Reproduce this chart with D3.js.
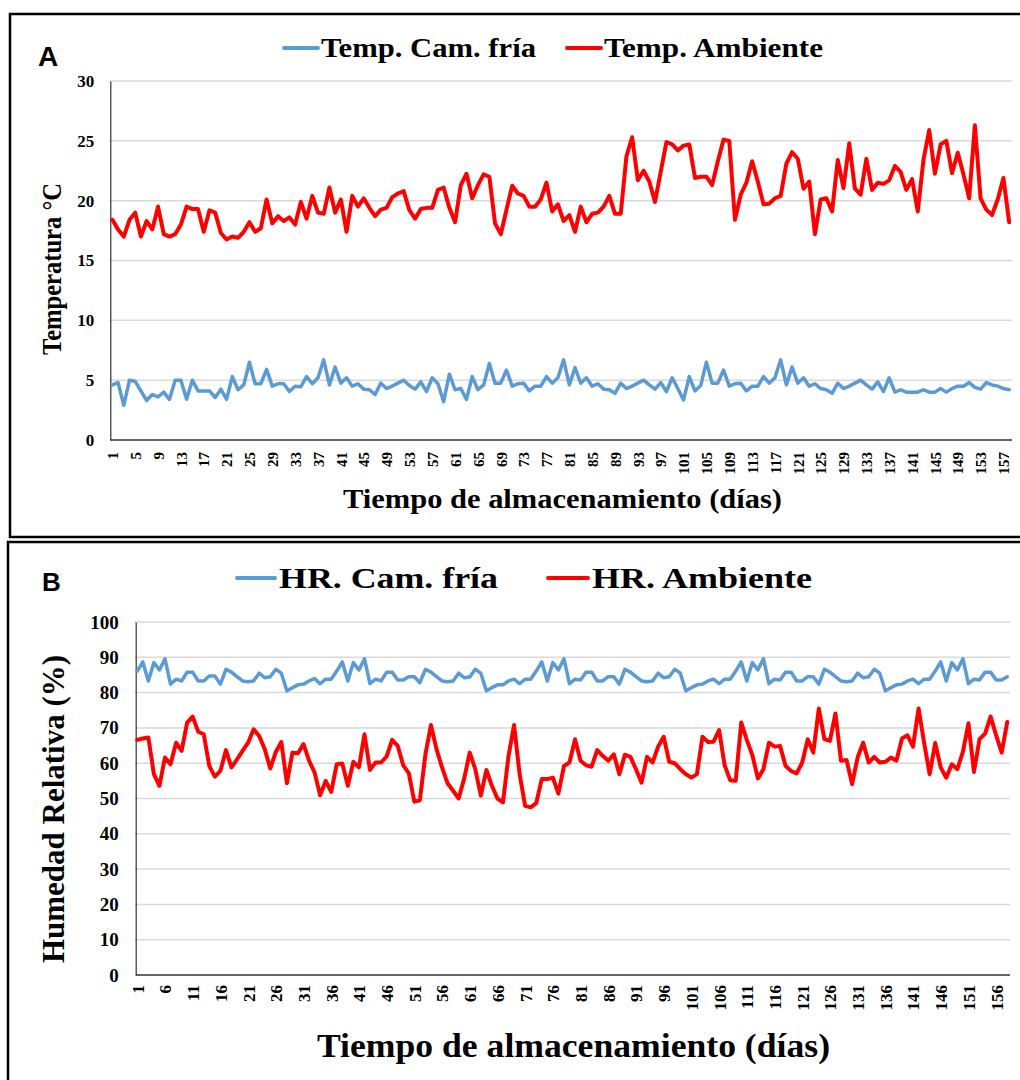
<!DOCTYPE html>
<html><head><meta charset="utf-8">
<script src="https://cdn.jsdelivr.net/npm/d3@7"></script>
<style>
html,body{margin:0;padding:0;background:#fff;}
svg{display:block;}
</style></head>
<body>
<svg id="chart" width="1020" height="1080"></svg>
<script>
// ---------- DATA ----------
const days = d3.range(1, 159);
const tickDaysA = [1,5,9,13,17,21,25,29,33,37,41,45,49,53,57,61,65,69,73,77,81,85,89,93,97,101,105,109,113,117,121,125,129,133,137,141,145,149,153,157];
const tickDaysB = [1,6,11,16,21,26,31,36,41,46,51,56,61,66,71,76,81,86,91,96,101,106,111,116,121,126,131,136,141,146,151,156];
const yTicksA = [0,5,10,15,20,25,30];
const yTicksB = [0,10,20,30,40,50,60,70,80,90,100];

const tempCamFria = [
4.6,4.8,2.9,5.0,4.9,4.1,3.3,3.8,3.6,4.0,
3.4,5.0,5.0,3.4,5.0,4.1,4.1,4.1,3.55,4.25,
3.4,5.3,4.2,4.6,6.5,4.7,4.7,5.9,4.5,4.7,
4.7,4.05,4.5,4.45,5.3,4.7,5.2,6.7,4.6,6.1,
4.75,5.2,4.5,4.7,4.25,4.2,3.8,4.75,4.3,4.5,
4.75,5.0,4.55,4.25,4.85,4.05,5.2,4.7,3.2,5.5,
4.2,4.3,3.4,5.3,4.2,4.6,6.4,4.75,4.75,5.85,
4.5,4.7,4.75,4.1,4.5,4.5,5.3,4.75,5.2,6.7,
4.6,6.05,4.75,5.2,4.5,4.7,4.25,4.2,3.9,4.75,
4.3,4.5,4.75,5.0,4.6,4.25,4.8,4.05,5.2,4.3,
3.35,5.3,4.1,4.55,6.5,4.75,4.75,5.85,4.5,4.7,
4.75,4.1,4.5,4.5,5.3,4.75,5.2,6.7,4.6,6.1,
4.75,5.2,4.5,4.7,4.3,4.2,3.9,4.75,4.3,4.5,
4.75,5.0,4.6,4.25,4.85,4.05,5.2,4.0,4.2,4.0,
4.0,4.0,4.2,4.0,4.0,4.3,4.0,4.3,4.5,4.5,
4.8,4.4,4.25,4.8,4.6,4.5,4.3,4.2];

const tempAmbiente = [
18.4,17.6,17.0,18.4,19.0,17.0,18.3,17.6,19.5,17.2,
17.0,17.2,18.0,19.5,19.3,19.3,17.4,19.2,19.0,17.3,
16.75,17.0,16.9,17.4,18.2,17.4,17.7,20.1,18.1,18.7,
18.3,18.6,18.0,19.9,18.5,20.4,19.0,18.9,21.1,19.0,
20.1,17.4,20.4,19.5,20.2,19.4,18.7,19.25,19.4,20.3,
20.6,20.8,19.2,18.5,19.3,19.4,19.4,20.9,21.1,19.4,
18.2,21.3,22.25,20.2,21.3,22.2,22.0,18.1,17.2,19.25,
21.25,20.6,20.4,19.5,19.5,20.1,21.5,19.1,19.7,18.3,
18.8,17.4,19.5,18.2,18.9,19.0,19.5,20.4,18.9,18.9,
23.7,25.3,21.7,22.5,21.6,19.9,22.4,24.9,24.7,24.2,
24.6,24.7,21.9,22.0,22.0,21.3,23.3,25.1,25.0,18.4,
20.5,21.5,23.3,21.6,19.7,19.75,20.2,20.4,23.1,24.05,
23.5,21.0,21.6,17.2,20.1,20.2,19.1,23.4,21.05,24.8,
21.0,20.5,23.5,20.9,21.5,21.4,21.7,22.9,22.4,20.9,
21.8,19.1,23.4,25.9,22.25,24.7,25.0,22.3,24.0,22.2,
20.2,26.3,20.2,19.25,18.8,20.1,21.9,18.2];

const hrCamFria = [
86.1,88.7,83.3,88.5,86.4,89.6,82.4,83.8,83.3,85.8,
85.8,83.3,83.3,84.7,84.7,82.4,86.6,85.8,84.5,83.3,
83.1,83.3,85.5,84.2,84.5,86.6,85.5,80.5,81.4,82.2,
82.4,83.3,84.0,82.5,83.8,83.8,86.1,88.7,83.3,88.5,
86.4,89.6,82.5,83.8,83.3,85.8,85.8,83.6,83.6,84.5,
84.5,82.8,86.6,85.8,84.5,83.3,83.1,83.3,85.5,84.2,
84.4,86.6,85.5,80.5,81.4,82.2,82.2,83.3,83.8,82.5,
83.8,83.8,86.1,88.7,83.3,88.5,86.4,89.6,82.5,83.8,
83.6,85.8,85.8,83.3,83.3,84.5,84.5,82.4,86.6,85.8,
84.5,83.3,83.1,83.3,85.5,84.2,84.5,86.6,85.5,80.5,
81.4,82.2,82.4,83.3,83.8,82.5,83.8,83.8,86.1,88.7,
83.3,88.5,86.4,89.6,82.5,83.8,83.6,85.8,85.8,83.3,
83.3,84.5,84.5,82.4,86.6,85.8,84.5,83.3,83.1,83.3,
85.5,84.2,84.5,86.6,85.5,80.5,81.4,82.2,82.4,83.3,
83.8,82.5,83.8,83.8,86.1,88.7,83.3,88.5,86.4,89.6,
82.5,83.8,83.6,85.8,85.8,83.6,83.6,84.5];

const hrAmbiente = [
66.6,67.0,67.3,56.9,53.6,61.6,59.7,65.8,63.5,71.5,
73.2,68.9,68.2,59.2,56.2,57.8,63.7,58.8,61.1,63.5,
65.8,69.6,67.7,64.0,58.5,63.2,66.0,54.3,63.0,62.8,
65.4,60.7,57.4,50.9,55.0,51.9,59.7,59.9,53.6,60.4,
58.8,68.2,58.1,60.2,60.2,61.9,66.6,64.9,59.4,57.2,
49.1,49.5,62.5,70.8,64.0,58.8,54.3,52.2,50.0,55.7,
63.0,58.3,50.8,58.1,53.6,50.0,48.9,62.1,70.8,56.9,
47.9,47.5,48.7,55.5,55.5,55.9,51.4,59.2,60.2,66.8,
60.7,59.4,59.0,63.7,62.1,60.7,62.5,56.9,62.4,61.8,
58.3,54.5,61.8,60.2,64.7,67.5,60.4,60.0,58.3,56.9,
55.9,56.9,67.5,66.0,66.1,69.4,59.4,55.2,55.0,71.5,
66.6,62.3,55.7,58.3,65.8,64.7,64.9,59.2,57.8,57.1,
60.2,66.8,63.0,75.5,66.8,66.3,74.1,60.7,60.9,54.1,
61.6,65.8,60.2,61.8,60.2,60.4,61.6,60.7,67.0,67.9,
64.7,75.5,65.8,56.9,65.7,58.8,55.9,59.7,58.3,63.2,
71.3,57.5,66.8,68.4,73.2,67.9,63.0,71.7];

const legendA = ["Temp. Cam. fría", "Temp. Ambiente"];
const legendB = ["HR. Cam. fría", "HR. Ambiente"];
const BLUE = "#5B9BD5", RED = "#FF0000";
const SERIF = "'Liberation Serif','Times New Roman',serif";
const SANS = "'Liberation Sans',Arial,sans-serif";

const svg = d3.select("#chart");
svg.append("rect").attr("width",1020).attr("height",1080).attr("fill","#fff");

function panel(cfg) {
  const g = svg.append("g");
  // border
  g.append("rect").attr("x", cfg.box[0]).attr("y", cfg.box[1]).attr("width", cfg.box[2]).attr("height", cfg.box[3])
    .attr("fill","none").attr("stroke","#000").attr("stroke-width",2.5);
  const x = d3.scalePoint().domain(days).range(cfg.xr).padding(0.5);
  const y = d3.scaleLinear().domain(cfg.yd).range(cfg.yr);
  // gridlines
  g.append("g").selectAll("line").data(cfg.yticks.filter(v => v > 0)).join("line")
    .attr("x1", cfg.xr[0]).attr("x2", cfg.xr[1]).attr("y1", d => y(d)).attr("y2", d => y(d))
    .attr("stroke","#d9d9d9").attr("stroke-width",1.5);
  // y axis
  const ya = g.append("g").attr("transform", `translate(${cfg.axisX},0)`)
    .call(d3.axisLeft(y).tickValues(cfg.yticks).tickSize(0).tickPadding(cfg.ytickPad));
  ya.select(".domain").attr("stroke","#333").attr("stroke-width",1.2);
  ya.selectAll("text").attr("font-family", SERIF).attr("font-weight","bold").attr("font-size", cfg.yFont).attr("fill","#000");
  // x axis
  const xa = g.append("g").attr("transform", `translate(0,${cfg.yr[0]})`)
    .call(d3.axisBottom(x).tickValues(cfg.xticks).tickSize(0));
  xa.select(".domain").attr("d", `M${cfg.axisX},0H${cfg.xr[1]}`).attr("stroke","#333").attr("stroke-width",1.5);
  xa.selectAll("text").attr("transform","rotate(-90)").attr("text-anchor","end")
    .attr("x", -cfg.xtickPad).attr("y", 0).attr("dy","0.35em")
    .attr("font-family", SERIF).attr("font-weight","bold").attr("font-size", cfg.xFont).attr("fill","#000");
  // lines
  const line = d3.line().x((d,i) => x(days[i])).y(d => y(d));
  g.append("path").datum(cfg.s1).attr("d", line).attr("fill","none").attr("stroke",BLUE)
    .attr("stroke-width",3.5).attr("stroke-linejoin","round").attr("stroke-linecap","round");
  g.append("path").datum(cfg.s2).attr("d", line).attr("fill","none").attr("stroke",RED)
    .attr("stroke-width",4).attr("stroke-linejoin","round").attr("stroke-linecap","round");
  // panel letter
  g.append("text").attr("x", cfg.letter[0]).attr("y", cfg.letter[1]).text(cfg.letter[2])
    .attr("font-family", SANS).attr("font-weight","bold").attr("font-size", cfg.letter[3]);
  // legend
  const L = cfg.legend;
  [[BLUE, L.l1, L.t1, cfg.legendText[0]], [RED, L.l2, L.t2, cfg.legendText[1]]].forEach(([c, l, t, txt]) => {
    g.append("line").attr("x1", l[0]).attr("x2", l[1]).attr("y1", L.ly).attr("y2", L.ly)
      .attr("stroke", c).attr("stroke-width", 4).attr("stroke-linecap","round");
    g.append("text").attr("x", t[0]).attr("y", L.by).text(txt)
      .attr("textLength", t[1]).attr("lengthAdjust","spacingAndGlyphs")
      .attr("font-family", SERIF).attr("font-weight","bold").attr("font-size", L.fs);
  });
  // y title
  const yt = cfg.ytitle;
  g.append("text").attr("transform", `translate(${yt.x},${yt.y}) rotate(-90)`).attr("text-anchor","middle")
    .text(yt.t).attr("textLength", yt.len).attr("lengthAdjust","spacingAndGlyphs")
    .attr("font-family", SERIF).attr("font-weight","bold").attr("font-size", yt.fs);
  // x title
  const xt = cfg.xtitle;
  g.append("text").attr("x", xt.x).attr("y", xt.y).text(xt.t)
    .attr("textLength", xt.len).attr("lengthAdjust","spacingAndGlyphs")
    .attr("font-family", SERIF).attr("font-weight","bold").attr("font-size", xt.fs);
}

panel({
  box: [10, 14, 1030, 523],
  xr: [109.5, 1012], yr: [440, 81], yd: [0, 30], axisX: 110.3,
  yticks: yTicksA, xticks: tickDaysA, ytickPad: 16, yFont: 17, xFont: 15, xtickPad: 12,
  s1: tempCamFria, s2: tempAmbiente,
  letter: [38, 66, "A", 28],
  legend: { ly: 48, by: 57, fs: 27, l1: [284, 318], t1: [321, 215], l2: [567, 601], t2: [604, 219] },
  legendText: legendA,
  ytitle: { x: 61, y: 269, t: "Temperatura °C", len: 172, fs: 27 },
  xtitle: { x: 343, y: 508, t: "Tiempo de almacenamiento (días)", len: 439, fs: 28 }
});

panel({
  box: [8, 542, 1030, 560],
  xr: [134.5, 1010], yr: [975, 622], yd: [0, 100], axisX: 135.7,
  yticks: yTicksB, xticks: tickDaysB, ytickPad: 17, yFont: 19, xFont: 17, xtickPad: 10,
  s1: hrCamFria, s2: hrAmbiente,
  letter: [42, 591, "B", 26],
  legend: { ly: 578, by: 588, fs: 30, l1: [237, 275], t1: [279, 219], l2: [548, 588], t2: [592, 220] },
  legendText: legendB,
  ytitle: { x: 64, y: 809, t: "Humedad Relativa (%)", len: 308, fs: 32 },
  xtitle: { x: 317, y: 1057, t: "Tiempo de almacenamiento (días)", len: 513, fs: 34 }
});
</script>
</body></html>
